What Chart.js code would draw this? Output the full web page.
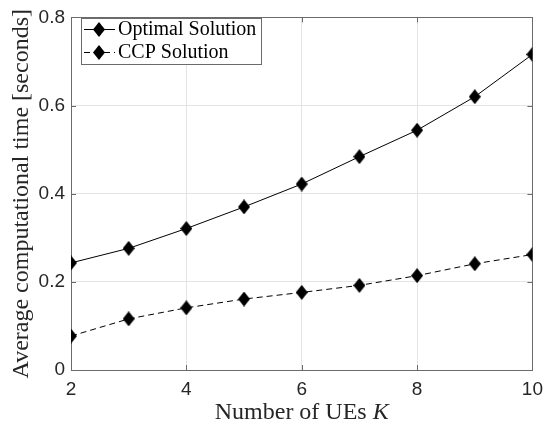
<!DOCTYPE html>
<html>
<head>
<meta charset="utf-8">
<script src="https://cdn.jsdelivr.net/npm/chart.js@4.4.1/dist/chart.umd.min.js"></script>
<style>
html,body{margin:0;padding:0;background:#fff;}
#wrap{width:551px;height:426px;position:relative;}
</style>
</head>
<body>
<div id="wrap"><canvas id="c" width="551" height="426"></canvas></div>
<script>
// ---- data ----
const numUEs = [2, 3, 4, 5, 6, 7, 8, 9, 10];
const optimalTime = [0.243, 0.276, 0.321, 0.370, 0.422, 0.484, 0.544, 0.620, 0.716];
const ccpTime = [0.077, 0.116, 0.141, 0.161, 0.176, 0.192, 0.214, 0.241, 0.262];
const seriesLabels = ['Optimal Solution', 'CCP Solution'];
const xTicks = [2, 4, 6, 8, 10];
const yTicks = [0, 0.2, 0.4, 0.6, 0.8];
const xTitle = 'Number of UEs ';
const xTitleVar = 'K';
const yTitle = 'Average computational time [seconds]';

const AXIS = '#6b6b6b';
const GRID = '#e4e4e4';
const TICKC = '#262626';
const SERIF = '"Liberation Serif", "DejaVu Serif", serif';
const SANS = '"Liberation Sans", Arial, sans-serif';

function diamond(w, h) {
  const c = document.createElement('canvas');
  c.width = w; c.height = h;
  const g = c.getContext('2d');
  g.fillStyle = '#000';
  g.beginPath();
  g.moveTo(w / 2, 0); g.lineTo(w, h / 2); g.lineTo(w / 2, h); g.lineTo(0, h / 2);
  g.closePath(); g.fill();
  return c;
}
const marker = diamond(12, 15);

const toXY = (xs, ys) => xs.map((x, i) => ({x: x, y: ys[i]}));

const frame = {
  id: 'frame',
  beforeDatasetsDraw(chart) {
    const {ctx, chartArea: a, scales} = chart;
    ctx.save();
    ctx.strokeStyle = AXIS;
    ctx.lineWidth = 1;
    const L = 5;
    ctx.beginPath();
    xTicks.forEach(v => {
      const px = Math.round(scales.x.getPixelForValue(v)) + 0.5;
      ctx.moveTo(px, a.bottom); ctx.lineTo(px, a.bottom - L);
      ctx.moveTo(px, a.top); ctx.lineTo(px, a.top + L);
    });
    yTicks.forEach(v => {
      const py = Math.round(scales.y.getPixelForValue(v)) + 0.5;
      ctx.moveTo(a.left, py); ctx.lineTo(a.left + L, py);
      ctx.moveTo(a.right, py); ctx.lineTo(a.right - L, py);
    });
    ctx.stroke();
    ctx.strokeRect(Math.round(a.left) + 0.5, Math.round(a.top) + 0.5,
      Math.round(a.right - a.left), Math.round(a.bottom - a.top));
    ctx.restore();
  },
  afterDraw(chart) {
    const {ctx, chartArea: a} = chart;
    ctx.save();
    // x title
    ctx.fillStyle = TICKC;
    ctx.textBaseline = 'alphabetic';
    const fs = 24;
    ctx.font = fs + 'px ' + SERIF;
    const w1 = ctx.measureText(xTitle).width;
    ctx.font = 'italic ' + fs + 'px ' + SERIF;
    const w2 = ctx.measureText(xTitleVar).width;
    const cx = (a.left + a.right) / 2;
    let sx = cx - (w1 + w2) / 2;
    ctx.font = fs + 'px ' + SERIF;
    ctx.fillText(xTitle, sx, 419);
    ctx.font = 'italic ' + fs + 'px ' + SERIF;
    ctx.fillText(xTitleVar, sx + w1, 419);
    // y title
    ctx.save();
    ctx.translate(28, (a.top + a.bottom) / 2);
    ctx.rotate(-Math.PI / 2);
    ctx.font = fs + 'px ' + SERIF;
    ctx.textAlign = 'center';
    ctx.fillText(yTitle, 0, 0);
    ctx.restore();
    // legend
    const lx = 81, ly = 18, lw = 180, lh = 46;
    ctx.fillStyle = '#fff';
    ctx.fillRect(lx, ly, lw, lh);
    ctx.strokeStyle = AXIS;
    ctx.lineWidth = 1;
    ctx.strokeRect(lx + 0.5, ly + 0.5, lw, lh);
    chart.data.datasets.forEach((ds, i) => {
      const yy = ly + 11 + i * 23;
      ctx.strokeStyle = ds.borderColor;
      ctx.lineWidth = ds.borderWidth;
      ctx.setLineDash(ds.borderDash || []);
      ctx.beginPath();
      ctx.moveTo(lx + 3, yy + 0.5); ctx.lineTo(lx + 34, yy + 0.5);
      ctx.stroke();
      ctx.setLineDash([]);
      ctx.drawImage(marker, lx + 18 - 6, yy - 7);
      ctx.fillStyle = '#000';
      ctx.font = '20px ' + SERIF;
      ctx.textBaseline = 'middle';
      ctx.textAlign = 'left';
      ctx.fillText(ds.label, lx + 37, yy + 1);
    });
    ctx.restore();
  }
};

new Chart(document.getElementById('c'), {
  type: 'line',
  data: {
    datasets: [
      {label: seriesLabels[0], data: toXY(numUEs, optimalTime), borderColor: '#000', borderWidth: 1,
       pointStyle: marker, pointRadius: 7, backgroundColor: '#000', tension: 0},
      {label: seriesLabels[1], data: toXY(numUEs, ccpTime), borderColor: '#000', borderWidth: 1,
       borderDash: [6, 4], pointStyle: marker, pointRadius: 7, backgroundColor: '#000', tension: 0}
    ]
  },
  plugins: [frame],
  options: {
    responsive: false,
    animation: false,
    layout: {padding: {top: 9, right: 12, left: 0, bottom: 0}},
    plugins: {legend: {display: false}, tooltip: {enabled: false}},
    scales: {
      x: {
        type: 'linear', min: 2, max: 10,
        afterBuildTicks: s => { s.ticks = xTicks.map(v => ({value: v})); },
        afterFit: s => { s.height = 56; },
        grid: {color: GRID, drawTicks: false, lineWidth: 1},
        border: {display: false},
        ticks: {color: TICKC, font: {family: SANS, size: 19}, padding: 8, maxRotation: 0}
      },
      y: {
        type: 'linear', min: 0, max: 0.8,
        afterBuildTicks: s => { s.ticks = yTicks.map(v => ({value: v})); },
        afterFit: s => { s.width = 71; },
        grid: {color: GRID, drawTicks: false, lineWidth: 1},
        border: {display: false},
        ticks: {color: TICKC, font: {family: SANS, size: 19}, padding: 6,
                callback: v => String(v)}
      }
    }
  }
});
</script>
</body>
</html>
